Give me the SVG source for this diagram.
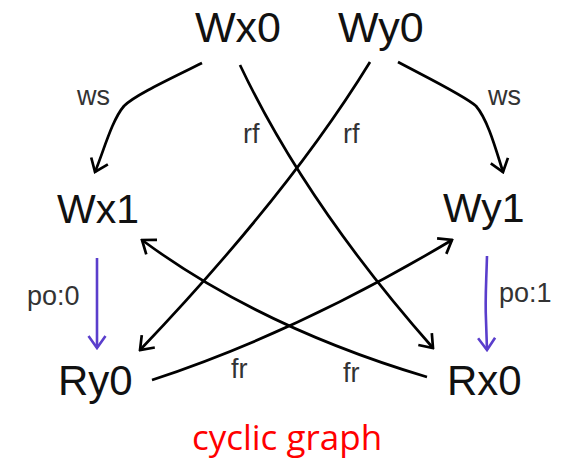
<svg xmlns="http://www.w3.org/2000/svg" width="567" height="464" viewBox="0 0 567 464">
<style>
.node{font-family:"Liberation Sans",Arial,sans-serif;fill:#111}
.lbl{font-family:"Liberation Sans",Arial,sans-serif;font-size:27px;fill:#333}
.e{fill:none;stroke:#000;stroke-width:2.7;marker-end:url(#ah)}
.po{fill:none;stroke:#5a3ecc;stroke-width:2.6;marker-end:url(#ahp)}
</style>
<defs>
<marker id="ah" markerUnits="userSpaceOnUse" viewBox="-14 -11 16 22" refX="0" refY="0" markerWidth="16" markerHeight="22" orient="auto">
<path d="M-12,-9 L0,0 L-12,9" fill="none" stroke="#000" stroke-width="2.7" stroke-linejoin="miter"/>
</marker>
<marker id="ahp" markerUnits="userSpaceOnUse" viewBox="-14 -11 16 22" refX="0" refY="0" markerWidth="16" markerHeight="22" orient="auto">
<path d="M-12,-8.5 L0,0 L-12,8.5" fill="none" stroke="#5a3ecc" stroke-width="2.6"/>
</marker>
</defs>
<g id="edges">
<path class="e" d="M202,63 C170,79 135,95 124,106 C112,120 104,150 95,172"/>
<path class="e" d="M398,62 C430,79 465,96 476,106 C488,120 496,150 503,172"/>
<path class="e" d="M240,65 Q305.5,203.5 433,348"/>
<path class="e" d="M370,62 Q289,194 140,350"/>
<path class="e" d="M152,380 Q298,332 452,240"/>
<path class="e" d="M427,377 C370,360 250,320 142,240"/>
<path class="po" d="M97,258 L97,348"/>
<path class="po" d="M487,256 C486,290 485,300 486,320 L487,350"/>
</g>
<g id="labels">
<text class="lbl" x="77" y="105">ws</text>
<text class="lbl" x="488" y="105">ws</text>
<text class="lbl" x="243" y="143">rf</text>
<text class="lbl" x="343" y="143">rf</text>
<text class="lbl" x="27" y="305">po:0</text>
<text class="lbl" x="499" y="302">po:1</text>
<text class="lbl" x="231" y="378">fr</text>
<text class="lbl" x="343" y="382">fr</text>
</g>
<g id="Wx0"><text class="node" x="195" y="42" font-size="43">Wx0</text></g>
<g id="Wy0"><text class="node" x="338" y="42" font-size="43">Wy0</text></g>
<g id="Wx1"><text class="node" x="57" y="223" font-size="41">Wx1</text></g>
<g id="Wy1"><text class="node" x="443" y="222" font-size="41">Wy1</text></g>
<g id="Ry0"><text class="node" x="58" y="395" font-size="42">Ry0</text></g>
<g id="Rx0"><text class="node" x="447" y="395" font-size="42">Rx0</text></g>
<text x="287" y="450" text-anchor="middle" font-family="'Open Sans',sans-serif" font-size="35" fill="#ff0000">cyclic graph</text>
</svg>
